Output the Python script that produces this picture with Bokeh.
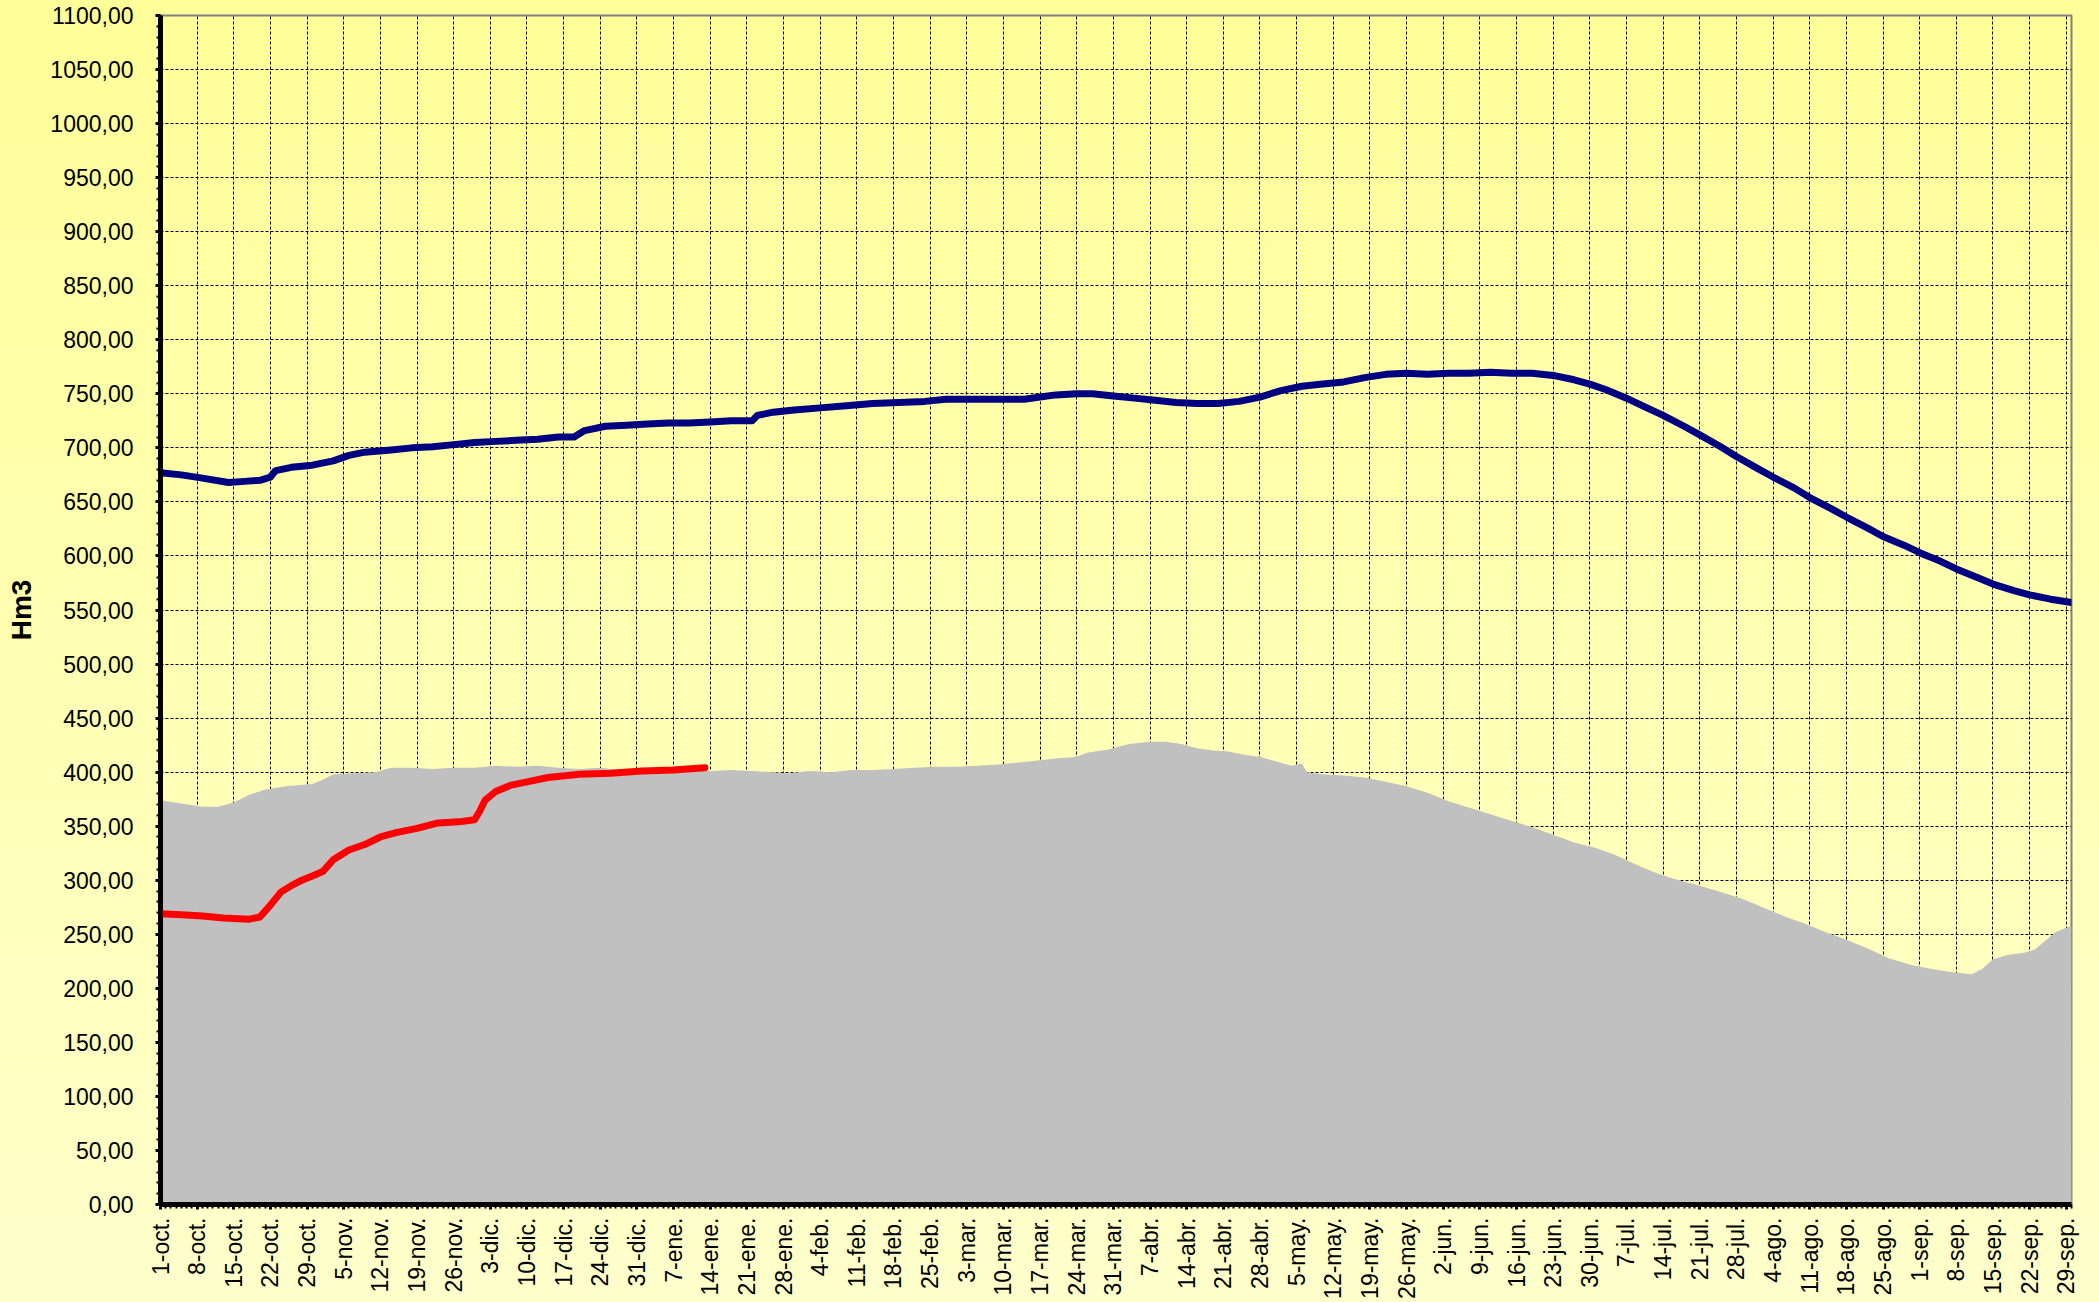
import math
from bokeh.plotting import figure
from bokeh.models import Range1d, FixedTicker
from bokeh.embed import file_html
from bokeh.resources import INLINE

# ---------------- data (day index from 1-oct) ----------------
tick_labels = ["1-oct.", "8-oct.", "15-oct.", "22-oct.", "29-oct.", "5-nov.", "12-nov.", "19-nov.",
               "26-nov.", "3-dic.", "10-dic.", "17-dic.", "24-dic.", "31-dic.", "7-ene.", "14-ene.",
               "21-ene.", "28-ene.", "4-feb.", "11-feb.", "18-feb.", "25-feb.", "3-mar.", "10-mar.",
               "17-mar.", "24-mar.", "31-mar.", "7-abr.", "14-abr.", "21-abr.", "28-abr.", "5-may.",
               "12-may.", "19-may.", "26-may.", "2-jun.", "9-jun.", "16-jun.", "23-jun.", "30-jun.",
               "7-jul.", "14-jul.", "21-jul.", "28-jul.", "4-ago.", "11-ago.", "18-ago.", "25-ago.",
               "1-sep.", "8-sep.", "15-sep.", "22-sep.", "29-sep."]
tick_days = [0, 7, 14, 21, 28, 35, 42, 49, 56, 63, 70, 77, 84, 91, 98, 105, 112, 119, 126, 133,
             140, 147, 154, 161, 168, 175, 182, 189, 196, 203, 210, 217, 224, 231, 238, 245, 252,
             259, 266, 273, 280, 287, 294, 301, 308, 315, 322, 329, 336, 343, 350, 357, 364]

y_ticks = [0, 50, 100, 150, 200, 250, 300, 350, 400, 450, 500, 550, 600, 650, 700, 750, 800,
           850, 900, 950, 1000, 1050, 1100]

grey_days = [0, 4, 8, 11, 14, 17, 20, 24, 29, 31, 33, 37, 41, 44, 48, 52, 56, 60, 64, 68, 72, 76,
             80, 84, 88, 92, 97, 101, 105, 109, 113, 117, 120, 124, 128, 132, 136, 140, 144, 148,
             152, 156, 160, 164, 168, 172, 175, 177, 181, 185, 189, 192, 195, 198, 201, 204, 207,
             210, 213, 216, 218, 219, 222, 226, 230, 234, 238, 242, 246, 250, 254, 258, 262, 266,
             270, 274, 278, 282, 286, 290, 294, 298, 302, 306, 310, 314, 318, 322, 326, 330, 334,
             338, 342, 346, 348, 350, 353, 356, 358, 360, 362, 364, 365]
grey_vals = [374, 371, 368, 368, 372, 379, 384, 387, 389, 393, 398, 399, 400, 404, 404, 403, 404,
             404, 406, 405, 406, 404, 403, 404, 402, 403, 402, 403, 401, 402, 401, 400, 399, 401,
             400, 402, 402, 403, 404, 405, 405, 406, 407, 409, 411, 413, 414, 418, 421, 426, 428,
             428, 426, 422, 420, 419, 416, 414, 410, 406, 408, 400, 398, 397, 395, 391, 387, 381,
             373, 367, 361, 355, 349, 342, 335, 330, 323, 314, 306, 300, 295, 289, 283, 275, 267,
             260, 252, 245, 237, 228, 222, 218, 215, 213, 218, 227, 231, 233, 236, 244, 252, 256,
             258]

blue_days = [0, 4, 8, 13, 16, 19, 21, 22, 25, 29, 33, 36, 39, 44, 48, 52, 56, 60, 64, 68, 72, 76,
             79, 81, 85, 89, 93, 97, 101, 105, 109, 113, 114, 117, 121, 126, 131, 136, 141, 146,
             150, 155, 160, 165, 168, 171, 175, 178, 182, 186, 190, 194, 198, 202, 206, 210, 214,
             218, 222, 226, 230, 234, 238, 242, 246, 250, 254, 258, 262, 266, 270, 273, 276, 280,
             283, 287, 291, 294, 298, 301, 305, 308, 312, 315, 319, 322, 326, 329, 333, 336, 340,
             343, 347, 350, 354, 357, 361, 365]
blue_vals = [677, 675, 672, 668, 669, 670, 673, 679, 682, 684, 688, 693, 696, 698, 700, 701, 703,
             705, 706, 707, 708, 710, 710, 716, 720, 721, 722, 723, 723, 724, 725, 725, 730, 733,
             735, 737, 739, 741, 742, 743, 745, 745, 745, 745, 747, 749, 750, 750, 748, 746, 744,
             742, 741, 741, 743, 747, 753, 757, 759, 761, 765, 768, 769, 768, 769, 769, 770, 769,
             769, 767, 763, 759, 754, 746, 739, 730, 720, 712, 701, 692, 681, 673, 663, 654, 644,
             636, 626, 618, 610, 603, 595, 588, 580, 574, 568, 564, 560, 557]

red_days = [0, 4, 8, 12, 17, 19, 21, 23, 25, 27, 29, 31, 33, 36, 39, 42, 45, 49, 53, 57, 60, 61,
            62, 64, 67, 70, 74, 80, 86, 92, 98, 104]
red_vals = [269, 268, 267, 265, 264, 266, 277, 289, 295, 300, 304, 308, 319, 328, 333, 340, 344,
            348, 353, 354, 356, 364, 374, 382, 388, 391, 395, 398, 399, 401, 402, 404]

FONT = "Liberation Sans"

p = figure(width=2091, height=1301, output_backend="svg", toolbar_location=None,
           x_range=Range1d(0, 365), y_range=Range1d(0, 1100),
           min_border_left=160, min_border_right=20, min_border_top=15, min_border_bottom=96)
p.border_fill_color = None
p.background_fill_color = None
p.outline_line_color = "#808080"
p.outline_line_width = 2

# grey area
p.varea(x=grey_days, y1=0, y2=grey_vals, fill_color="#C0C0C0")
# lines
p.line(blue_days, blue_vals, line_color="#000080", line_width=7, line_join="round", line_cap="round")
p.line(red_days, red_vals, line_color="#FF0000", line_width=7, line_join="round", line_cap="round")

# axes
p.xaxis.ticker = FixedTicker(ticks=tick_days, minor_ticks=list(range(0, 366)))
p.xaxis.major_label_overrides = {d: l for d, l in zip(tick_days, tick_labels)}
p.xaxis.major_label_orientation = math.pi / 2
p.yaxis.ticker = FixedTicker(ticks=y_ticks, minor_ticks=list(range(0, 1101, 10)))
p.yaxis.major_label_overrides = {v: f"{v},00" for v in y_ticks}

for ax in (p.xaxis[0], p.yaxis[0]):
    ax.axis_line_color = "black"
    ax.axis_line_width = 5
    ax.major_tick_line_color = "black"
    ax.major_tick_line_width = 3
    ax.major_tick_out = 5
    ax.major_tick_in = 0
    ax.minor_tick_line_color = "black"
    ax.minor_tick_line_width = 2
    ax.minor_tick_out = 4
    ax.minor_tick_in = 0
    ax.major_label_text_font = FONT
    ax.major_label_text_font_size = "23px"
    ax.major_label_text_color = "black"

p.xaxis.major_label_standoff = 8
p.yaxis.major_label_standoff = 22
p.yaxis.axis_label = "Hm3"
p.yaxis.axis_label_text_font = FONT
p.yaxis.axis_label_text_font_style = "bold"
p.yaxis.axis_label_text_font_size = "28px"
p.yaxis.axis_label_text_color = "black"
p.yaxis.axis_label_standoff = 10

# grid
for g in (p.xgrid[0], p.ygrid[0]):
    g.grid_line_color = "black"
    g.grid_line_dash = "3 2"
    g.grid_line_width = 1
    g.grid_line_alpha = 1.0

html = file_html(p, INLINE, title="Embalse")
style = ("<style>html{min-height:100%;background:linear-gradient(180deg,#FFFF99 0%,#FFFFCC 100%) "
         "no-repeat;background-size:100% 1302px;}body{background:transparent;}</style>")
html = html.replace("</head>", style + "</head>", 1)
open("out.html", "w").write(html)
